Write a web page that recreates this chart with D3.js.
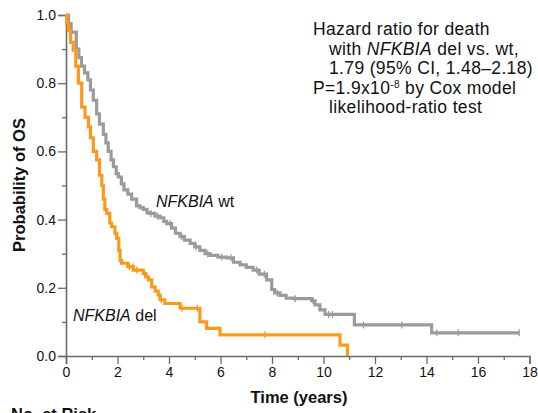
<!DOCTYPE html>
<html><head><meta charset="utf-8">
<script src="https://cdn.jsdelivr.net/npm/d3@7/dist/d3.min.js"></script>
<style>
body{margin:0;background:#fff;}
text{font-family:"Liberation Sans",Arial,Helvetica,sans-serif;}
</style></head>
<body>
<svg id="c" width="538" height="413"></svg>
<script>
// ---- data ----
const wtTime = [0,0.1,0.2,0.4,0.5,0.6,0.72,0.85,0.95,1.06,1.19,1.3,1.45,1.55,1.64,1.75,1.84,1.95,2.03,2.15,2.25,2.4,2.55,2.74,2.87,3.0,3.15,3.26,3.45,3.65,3.8,3.91,4.1,4.25,4.43,4.6,4.82,5.0,5.2,5.4,5.59,5.9,6.24,6.5,6.76,7.0,7.27,7.5,7.79,7.99,8.1,8.31,8.55,8.83,9.54,9.67,9.86,10.06,11.2,14.2,17.6];
const wtSurv = [1.0,0.975,0.95,0.90,0.875,0.85,0.83,0.81,0.78,0.75,0.71,0.68,0.65,0.625,0.60,0.575,0.555,0.535,0.525,0.505,0.487,0.475,0.46,0.44,0.435,0.43,0.42,0.418,0.41,0.405,0.395,0.388,0.375,0.36,0.35,0.34,0.33,0.32,0.31,0.30,0.295,0.29,0.288,0.275,0.267,0.26,0.252,0.24,0.223,0.195,0.185,0.178,0.17,0.168,0.162,0.15,0.135,0.122,0.091,0.068,0.068];
const delTime = [0,0.03,0.09,0.18,0.28,0.38,0.48,0.61,0.74,0.87,0.95,1.06,1.19,1.3,1.39,1.45,1.51,1.58,1.7,1.77,1.9,1.97,2.05,2.1,2.16,2.4,2.61,3.0,3.1,3.2,3.33,3.46,3.58,3.65,3.84,4.43,5.2,5.46,5.98,10.64,10.93];
const delSurv = [1.0,0.975,0.955,0.92,0.897,0.85,0.80,0.73,0.70,0.672,0.64,0.60,0.575,0.53,0.50,0.46,0.43,0.418,0.39,0.379,0.36,0.345,0.31,0.28,0.272,0.262,0.252,0.242,0.232,0.223,0.203,0.19,0.179,0.165,0.154,0.14,0.10,0.081,0.062,0.032,0.0];
const wtCensor = [3.3,3.55,4.05,4.5,5.05,5.5,6.05,6.4,7.4,7.7,8.2,8.9,9.6,10.2,10.35,11.55,13.04,14.4,15.23,17.6];
const delCensor = [2.45,2.6,2.75,3.05,3.7,4.5,5.1,7.73];
const xMajor = [0,2,4,6,8,10,12,14,16,18];
const xMinor = [1,3,5,7,9,11,13,15,17];
const yMajor = [0,0.2,0.4,0.6,0.8,1.0];
const yMinor = [0.1,0.3,0.5,0.7,0.9];
const seriesNames = ["NFKBIA wt","NFKBIA del"];
const colors = ["#9b9b9b","#fb9a1a"];

// ---- layout ----
const svg = d3.select("#c");
const x = d3.scaleLinear().domain([0,18]).range([66,529.5]);
const y = d3.scaleLinear().domain([0,1]).range([356,15]);
const axisColor = "#6a6a6a";

// minor ticks
const gyMin = svg.append("g").attr("transform","translate(66,0)")
  .call(d3.axisLeft(y).tickValues(yMinor).tickSize(4).tickFormat(""));
const gxMin = svg.append("g").attr("transform","translate(0,356)")
  .call(d3.axisBottom(x).tickValues(xMinor).tickSize(4).tickFormat(""));
[gyMin,gxMin].forEach(g=>{g.select(".domain").remove();g.selectAll("line").attr("stroke",axisColor).attr("stroke-width",1.3);});

const gy = svg.append("g").attr("transform","translate(66,0)")
  .call(d3.axisLeft(y).tickValues(yMajor).tickSize(8).tickPadding(2).tickFormat(d3.format(".1f")));
const gx = svg.append("g").attr("transform","translate(0,356)")
  .call(d3.axisBottom(x).tickValues(xMajor).tickSize(8).tickPadding(3).tickFormat(d3.format("d")));
[gy,gx].forEach(g=>{
  g.select(".domain").attr("stroke",axisColor).attr("stroke-width",1.6);
  g.selectAll("line").attr("stroke",axisColor).attr("stroke-width",1.3);
  g.selectAll("text").attr("fill","#111").style("font-size","14px").style("font-family","'Liberation Sans',Arial,sans-serif");
});

// curves
const line = d3.line().x(d=>x(d[0])).y(d=>y(d[1])).curve(d3.curveStepAfter);
const wt = wtTime.map((t,i)=>[t,wtSurv[i]]);
const del = delTime.map((t,i)=>[t,delSurv[i]]);
function survAt(data,t){let s=data[0][1];for(const d of data){if(d[0]<=t)s=d[1];else break;}return s;}

svg.append("path").datum(wt).attr("d",line).attr("fill","none").attr("stroke",colors[0]).attr("stroke-width",3.2);
svg.append("g").selectAll("line").data(wtCensor).join("line")
  .attr("x1",d=>x(d)).attr("x2",d=>x(d)).attr("y1",d=>y(survAt(wt,d))-3.5).attr("y2",d=>y(survAt(wt,d))+3.5)
  .attr("stroke",colors[0]).attr("stroke-width",1.3);
svg.append("path").datum(del).attr("d",line).attr("fill","none").attr("stroke",colors[1]).attr("stroke-width",3.2);
svg.append("g").selectAll("line").data(delCensor).join("line")
  .attr("x1",d=>x(d)).attr("x2",d=>x(d)).attr("y1",d=>y(survAt(del,d))-3.5).attr("y2",d=>y(survAt(del,d))+3.5)
  .attr("stroke",colors[1]).attr("stroke-width",1.3);

// axis titles
svg.append("text").attr("transform","translate(25,185) rotate(-90)").attr("text-anchor","middle")
  .style("font-size","16.5px").style("font-weight","bold").attr("fill","#111").text("Probability of OS");
svg.append("text").attr("x",299).attr("y",403).attr("text-anchor","middle")
  .style("font-size","16.5px").style("font-weight","bold").attr("fill","#111").text("Time (years)");
svg.append("text").attr("x",11).attr("y",420)
  .style("font-size","16.5px").style("font-weight","bold").attr("fill","#111").text("No. at Risk");

// series labels
function seriesLabel(xp,yp,name){
  const [gene,suf] = name.split(" ");
  const t = svg.append("text").attr("x",xp).attr("y",yp).style("font-size","16px").attr("fill","#111");
  t.append("tspan").style("font-style","italic").text(gene);
  t.append("tspan").text(" "+suf);
}
seriesLabel(156,207,seriesNames[0]);
seriesLabel(73,321,seriesNames[1]);

// annotation
const ann = svg.append("g").style("font-size","17.5px").style("letter-spacing","0.35px").attr("fill","#111");
ann.append("text").attr("x",313).attr("y",35).text("Hazard ratio for death");
const l2 = ann.append("text").attr("x",329).attr("y",54.5);
l2.append("tspan").text("with ");
l2.append("tspan").style("font-style","italic").text("NFKBIA");
l2.append("tspan").text(" del vs. wt,");
ann.append("text").attr("x",329).attr("y",74).text("1.79 (95% CI, 1.48\u20132.18)");
const l4 = ann.append("text").attr("x",313).attr("y",93.5);
l4.append("tspan").text("P=1.9x10");
l4.append("tspan").attr("dy",-5.5).style("font-size","10px").text("-8");
l4.append("tspan").attr("dy",5.5).text(" by Cox model");
ann.append("text").attr("x",329).attr("y",112.5).text("likelihood-ratio test");
</script>
</body></html>
